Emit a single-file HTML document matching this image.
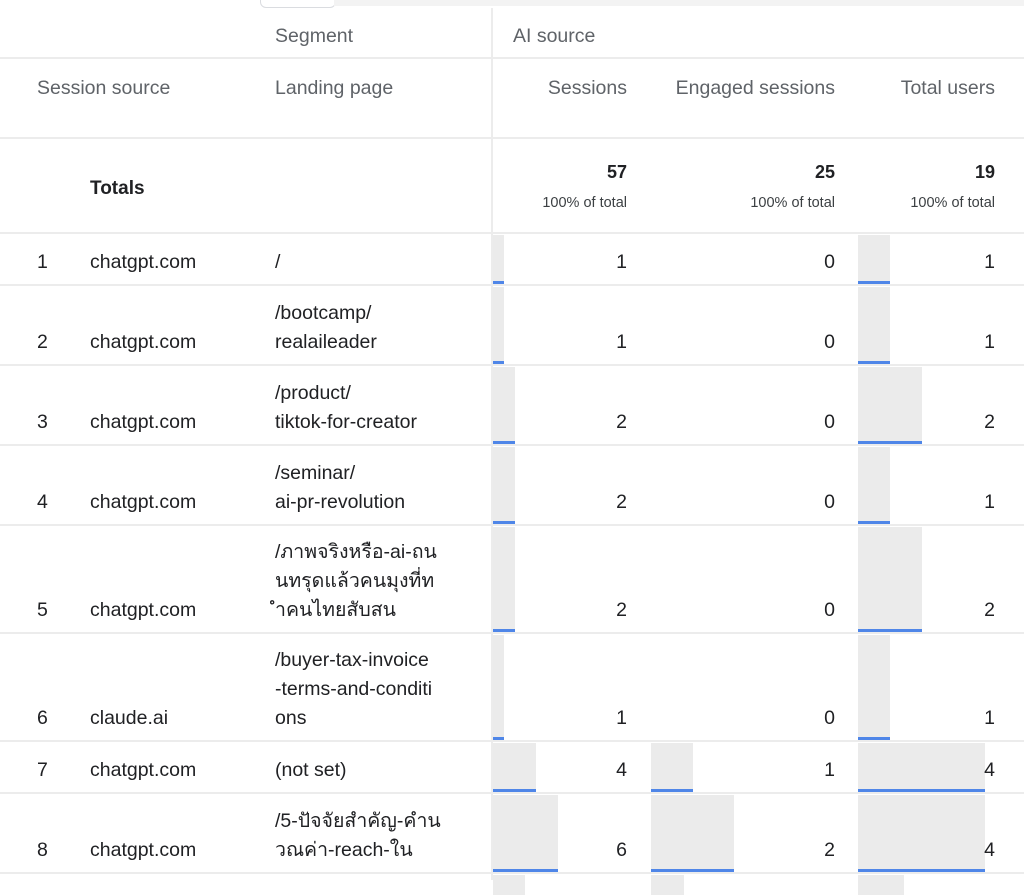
<!DOCTYPE html>
<html><head><meta charset="utf-8">
<style>
body{margin:0;width:1024px;height:880px;overflow:hidden;background:#fff;font-family:"Liberation Sans","DejaVu Sans",sans-serif;position:relative}
.a{position:absolute}
.h{color:#5f6368;font-size:19.5px}
.t{color:#202124;font-size:19.5px;line-height:29px}
.hl{position:absolute;left:0;width:1024px;height:2px;background:#ececec}
.bar{position:absolute;background:#ebebeb}
.bl{position:absolute;left:0;right:0;bottom:0;height:3px;background:#4f86e8}
</style></head><body>
<div class="a" style="left:260px;top:-4px;width:74px;height:10px;border:1px solid #dadce0;border-radius:0 0 6px 6px;background:#fff"></div>
<div class="a" style="left:334px;top:0;width:690px;height:6px;background:#f3f3f3"></div>
<div class="a" style="left:491px;top:8px;width:2px;height:872px;background:#ececec"></div>
<div class="hl" style="top:57px"></div>
<div class="hl" style="top:137px"></div>
<div class="hl" style="top:232px"></div>
<div class="a h" style="left:275px;top:25px">Segment</div>
<div class="a h" style="left:513px;top:25px">AI source</div>
<div class="a h" style="left:37px;top:77px">Session source</div>
<div class="a h" style="left:275px;top:77px">Landing page</div>
<div class="a h" style="right:397px;top:77px">Sessions</div>
<div class="a h" style="right:189px;top:77px">Engaged sessions</div>
<div class="a h" style="right:29px;top:77px">Total users</div>
<div class="a" style="left:90px;top:178px;font-size:19px;font-weight:bold;color:#202124">Totals</div>
<div id="tot"></div>
<div id="rows"></div>
<script>
const totals=[57,25,19];
const idx=[1,2,3,4,5,6,7,8];
const sources=["chatgpt.com","chatgpt.com","chatgpt.com","chatgpt.com","chatgpt.com","claude.ai","chatgpt.com","chatgpt.com"];
const landing=[["/"],["/bootcamp/","realaileader"],["/product/","tiktok-for-creator"],["/seminar/","ai-pr-revolution"],["/ภาพจริงหรือ-ai-ถน","นทรุดแล้วคนมุงที่ท","ำคนไทยสับสน"],["/buyer-tax-invoice","-terms-and-conditi","ons"],["(not set)"],["/5-ปัจจัยสำคัญ-คำน","วณค่า-reach-ใน"]];
const sessions=[1,1,2,2,2,1,4,6];
const engaged=[0,0,0,0,0,0,1,2];
const users=[1,1,2,1,2,1,4,4];
const nextRow=[3,0.8,1.45];
const cols=[{x:493,r:627,s:10.8},{x:651,r:835,s:41.5},{x:858,r:995,s:31.8}];
const tot=document.getElementById('tot');
totals.forEach((v,i)=>{
 const d=document.createElement('div');d.className='a';
 
 
 d.style.cssText=`right:${1024-cols[i].r}px;top:162px;text-align:right;color:#202124`;
 d.innerHTML=`<div style="font-size:18px;font-weight:bold">${v}</div><div style="font-size:14.5px;margin-top:12px;color:#3c4043">100% of total</div>`;
 tot.appendChild(d);
});
const rows=document.getElementById('rows');
let rowTop=233;
function mk(cls,css,html,name,inter){const d=document.createElement('div');d.className=cls;d.style.cssText=css;d.innerHTML=html;
  
  
  rows.appendChild(d);return d;}
idx.forEach((n,i)=>{
 const lines=landing[i].length;
 const h=lines==1?52:(lines==2?80:108);
 const bottom=rowTop+h;
 const vals=[sessions[i],engaged[i],users[i]];
 vals.forEach((v,c)=>{
  if(v>0){mk('bar',`left:${cols[c].x}px;top:${rowTop+2}px;height:${h-3}px;width:${v*cols[c].s}px`,'<div class="bl"></div>','value-bar','false');}
 });
 const ty=bottom-8-29;
 mk('a t',`left:37px;top:${ty}px`,n,'row-index','false');
 mk('a t',`left:90px;top:${ty}px`,sources[i],'session-source-cell','false');
 mk('a t',`left:275px;top:${bottom-8-29*lines}px`,landing[i].join('<br>'),'landing-page-cell','false');
 vals.forEach((v,c)=>{mk('a t',`right:${1024-cols[c].r}px;top:${ty}px`,v,'metric-cell','false');});
 mk('hl',`top:${bottom-1}px`,'','row-divider','false');
 rowTop=bottom;
});
nextRow.forEach((v,c)=>{
 mk('bar',`left:${cols[c].x}px;top:${rowTop+2}px;height:20px;width:${v*cols[c].s}px`,'','value-bar','false');
});
</script>
</body></html>
